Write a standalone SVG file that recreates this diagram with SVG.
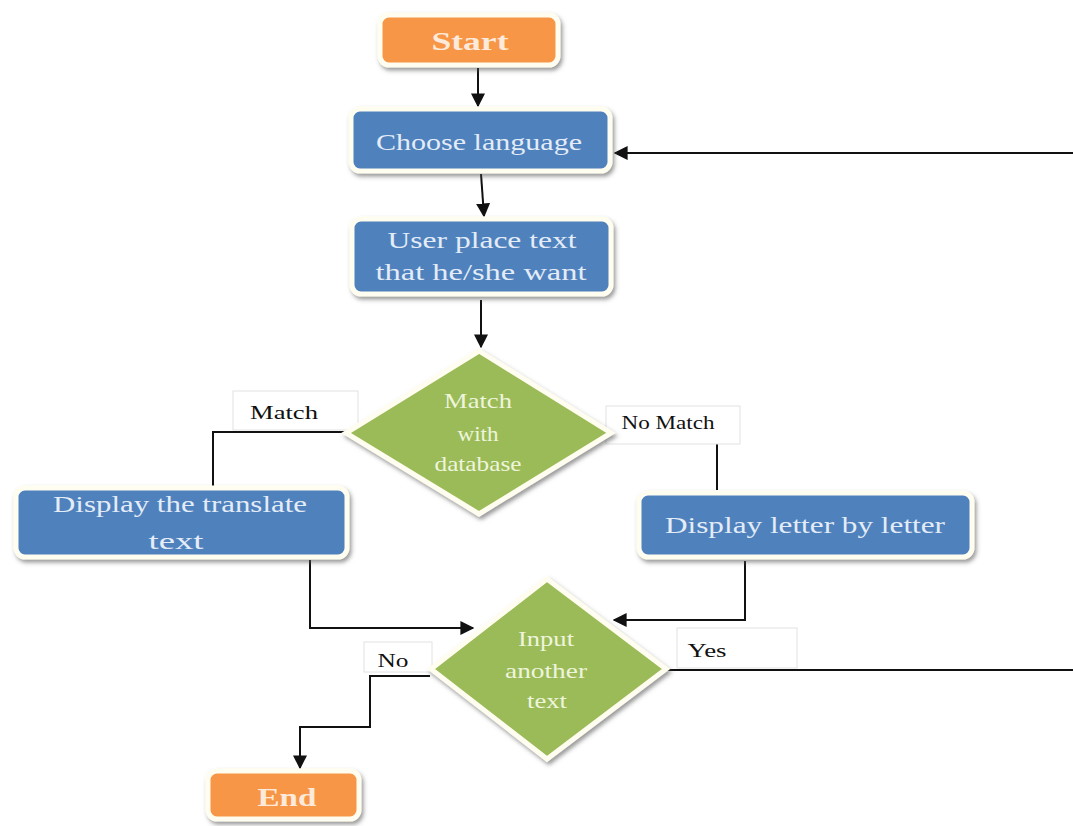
<svg xmlns="http://www.w3.org/2000/svg" width="1073" height="826" viewBox="0 0 1073 826">
<style>
.box{stroke:#fffdf0;stroke-width:5;filter:url(#sh)}
.blue{fill:#4f81bd}
.orange{fill:#f79646}
.green{fill:#9bbb59}
.t{font-family:"Liberation Serif","DejaVu Serif",serif;text-anchor:middle}
.tb{fill:#e3ecf7;font-size:24px}
.tg{fill:#eef5dc;font-size:21px}
.to{fill:#fdeada;font-size:26px;font-weight:bold}
.tl{fill:#111;font-size:19px}
.lab{fill:#fff;stroke:#e2e2e2;stroke-width:1}
.c{fill:none;stroke:#111;stroke-width:2}
</style>
<defs>
<filter id="sh" x="-10%" y="-20%" width="125%" height="150%">
<feDropShadow dx="2" dy="3" stdDeviation="2" flood-color="#555" flood-opacity="0.6"/>
</filter>
<marker id="ah" viewBox="0 0 10 10" refX="9" refY="5" markerWidth="7" markerHeight="7" orient="auto">
<path d="M0,0 L10,5 L0,10 z" fill="#111"/>
</marker>
</defs>
<rect width="1073" height="826" fill="#fff"/>

<g id="connectors">
<line class="c" x1="478" y1="68" x2="478" y2="106" marker-end="url(#ah)"/>
<line class="c" x1="481" y1="174" x2="484" y2="216" marker-end="url(#ah)"/>
<line class="c" x1="481" y1="300" x2="481" y2="347" marker-end="url(#ah)"/>
<polyline class="c" points="345,432 213,432 213,488"/>
<polyline class="c" points="612,435 717,435 717,490"/>
<polyline class="c" points="310,560 310,628 473,628" marker-end="url(#ah)"/>
<polyline class="c" points="745,561 745,620 614,620" marker-end="url(#ah)"/>
<polyline class="c" points="430,676 370,676 370,727 300,727 300,768" marker-end="url(#ah)"/>
<polyline class="c" points="667,670 1076,670 1076,153 615,153" marker-end="url(#ah)"/>
</g>

<g id="label-match">
<rect class="lab" x="233" y="391" width="125" height="39"/>
<text class="t tl" x="284" y="419" textLength="68" lengthAdjust="spacingAndGlyphs">Match</text>
</g>
<g id="label-nomatch">
<rect class="lab" x="606" y="406" width="134" height="38"/>
<text class="t tl" x="668" y="429" font-size="17" textLength="93" lengthAdjust="spacingAndGlyphs">No Match</text>
</g>
<g id="label-no">
<rect class="lab" x="364" y="642" width="68" height="30"/>
<text class="t tl" x="393" y="667" textLength="31" lengthAdjust="spacingAndGlyphs">No</text>
</g>
<g id="label-yes">
<rect class="lab" x="677" y="628" width="120" height="40"/>
<text class="t tl" x="707" y="657" textLength="39" lengthAdjust="spacingAndGlyphs">Yes</text>
</g>

<g id="start">
<rect class="box orange" x="380" y="15" width="178" height="50" rx="9"/>
<text class="t to" x="470" y="50" textLength="77" lengthAdjust="spacingAndGlyphs">Start</text>
</g>
<g id="choose">
<rect class="box blue" x="351" y="109" width="259" height="62" rx="9"/>
<text class="t tb" x="479" y="150" textLength="206" lengthAdjust="spacingAndGlyphs">Choose language</text>
</g>
<g id="userplace">
<rect class="box blue" x="352" y="219" width="259" height="75" rx="9"/>
<text class="t tb" x="482" y="248" textLength="189" lengthAdjust="spacingAndGlyphs">User place text</text>
<text class="t tb" x="481" y="280" textLength="211" lengthAdjust="spacingAndGlyphs">that he/she want</text>
</g>
<g id="match-db">
<polygon class="box green" points="479,351 611,433 479,514 346,433"/>
<text class="t tg" x="478" y="408" textLength="68" lengthAdjust="spacingAndGlyphs">Match</text>
<text class="t tg" x="478" y="441" textLength="41" lengthAdjust="spacingAndGlyphs">with</text>
<text class="t tg" x="478" y="471" textLength="87" lengthAdjust="spacingAndGlyphs">database</text>
</g>
<g id="display-translate">
<rect class="box blue" x="16" y="488" width="331" height="69" rx="9"/>
<text class="t tb" x="180" y="512" textLength="254" lengthAdjust="spacingAndGlyphs">Display the translate</text>
<text class="t tb" x="176" y="549" textLength="55" lengthAdjust="spacingAndGlyphs">text</text>
</g>
<g id="display-letter">
<rect class="box blue" x="639" y="493" width="333" height="64" rx="9"/>
<text class="t tb" x="805" y="533" textLength="280" lengthAdjust="spacingAndGlyphs">Display letter by letter</text>
</g>
<g id="input-another">
<polygon class="box green" points="547,579 666,669 547,759 431,669"/>
<text class="t tg" x="546" y="646" textLength="56" lengthAdjust="spacingAndGlyphs">Input</text>
<text class="t tg" x="546" y="678" textLength="82" lengthAdjust="spacingAndGlyphs">another</text>
<text class="t tg" x="547" y="708" textLength="40" lengthAdjust="spacingAndGlyphs">text</text>
</g>
<g id="end">
<rect class="box orange" x="208" y="771" width="151" height="48" rx="9"/>
<text class="t to" x="287" y="806" textLength="59" lengthAdjust="spacingAndGlyphs">End</text>
</g>
</svg>
